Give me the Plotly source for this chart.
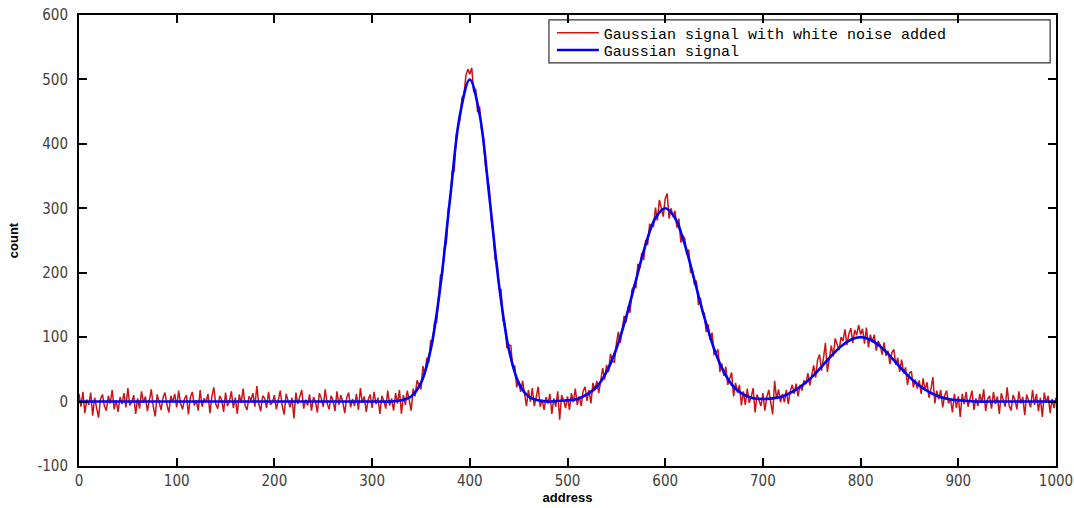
import plotly.graph_objects as go

# ---- data ----
noisy_step = 2  # address spacing of the noisy samples
noisy_counts = [
    12, -8, 15, -18, 3, -5, 14, -22, 6, -10,
    -25, 4, 11, -7, -14, 9, -3, 18, -12, 2,
    -16, 7, -4, 13, -9, 21, -6, -1, 10, -19,
    5, -11, 16, -2, 8, -15, 3, 19, -8, -23,
    11, 1, -13, 6, 14, -5, -17, 9, -1, 12,
    -9, 17, -3, -12, 4, 10, -20, 7, 15, -6,
    2, -14, 18, -8, 5, -1, 12, -18, 8, 22,
    -4, -11, 9, 3, -16, 14, -7, 1, 16, -10,
    6, -19, 11, -2, 20, -6, -13, 8, 2, 13,
    -8, 24, -3, -15, 9, 5, -10, 15, -5, -1,
    10, -12, 4, 17, -7, -20, 12, 1, -9, 6,
    -26, 14, -4, 8, 18, -11, 3, -6, 11, -14,
    7, 0, -17, 13, 5, -8, 19, -3, -12, 9,
    2, -15, 16, -5, 10, -1, -18, 6, 14, -9,
    4, -7, 12, -13, 21, -2, 8, -16, 3, 11,
    -10, 15, -4, 6, -19, 9, 1, -11, 17, -6,
    5, -14, 13, -3, 18, -19, 10, -5, 17, 2,
    -14, 20, 8, 33, 27, 19, 55, 42, 68, 61,
    95, 92, 124, 123, 160, 196, 198, 238, 246, 299,
    312, 357, 357, 413, 427, 437, 472, 476, 506, 516,
    508, 518, 480, 485, 449, 458, 422, 409, 366, 350,
    331, 282, 262, 220, 216, 175, 174, 126, 121, 83,
    88, 87, 52, 56, 22, 32, 15, 32, 12, -7,
    18, 0, 21, -7, 7, 23, -8, 3, -13, 7,
    -3, 12, -19, 5, -8, 16, -28, 10, 2, -10,
    8, -13, 13, -1, 20, -5, 8, -7, 16, 23,
    1, 18, -3, 29, 18, 32, 13, 35, 52, 34,
    57, 46, 74, 63, 61, 90, 108, 91, 112, 133,
    123, 148, 138, 174, 179, 177, 214, 207, 231, 220,
    251, 243, 275, 273, 272, 301, 281, 313, 302, 287,
    315, 323, 284, 300, 287, 296, 270, 284, 247, 258,
    253, 228, 236, 200, 203, 181, 188, 150, 161, 140,
    137, 108, 120, 96, 107, 73, 75, 81, 46, 59,
    40, 54, 26, 35, 45, 8, 29, 14, 26, -6,
    16, -5, 20, -2, 7, 21, -17, 11, 0, -7,
    13, -14, 7, 18, -1, -20, 32, 4, 19, -1,
    12, -1, 18, -4, 16, 26, 12, 28, 8, 26,
    17, 33, 27, 44, 25, 42, 56, 37, 65, 73,
    48, 67, 91, 46, 70, 87, 70, 98, 89, 80,
    100, 94, 112, 88, 105, 114, 91, 111, 103, 119,
    104, 113, 90, 115, 84, 104, 92, 104, 79, 94,
    88, 73, 92, 71, 79, 58, 76, 81, 57, 68,
    46, 65, 44, 53, 26, 44, 47, 22, 34, 20,
    33, 12, 36, 17, 30, 6, 19, 38, -3, 17,
    4, 18, -9, 9, 17, -3, 5, -17, 12, -10,
    8, -24, 12, -4, 15, -8, 4, 17, -13, 5,
    -7, 12, -2, 19, -15, 4, 9, -11, 15, -4,
    8, -19, 13, 1, -8, 22, -6, -14, 10, 3,
    -12, 16, -3, 7, -21, 11, 2, -9, 18, -5,
    12, -15, 6, -24, 14, -2, 9, -18, 4, -10,
    6,
]

clean_step = 10  # address spacing of the clean-signal samples
clean_counts = [
    0, 0, 0, 0, 0, 0, 0, 0, 0, 0,
    0, 0, 0, 0, 0, 0, 0, 0, 0, 0,
    0, 0, 0, 0, 0, 0, 0, 0, 0, 0,
    0, 0, 0, 2, 8, 29, 81, 180, 318, 446,
    500, 446, 318, 180, 81, 29, 8, 2, 0, 1,
    2, 4, 11, 23, 46, 82, 131, 188, 244, 285,
    300, 285, 244, 188, 131, 82, 46, 23, 11, 5,
    4, 5, 8, 15, 25, 38, 54, 71, 86, 96,
    100, 96, 86, 71, 54, 38, 25, 15, 8, 4,
    2, 1, 0, 0, 0, 0, 0, 0, 0, 0,
    0,
]

x_ticks = [0, 100, 200, 300, 400, 500, 600, 700, 800, 900, 1000]
y_ticks = [-100, 0, 100, 200, 300, 400, 500, 600]

noisy_x = [i * noisy_step for i in range(len(noisy_counts))]
clean_x = [i * clean_step for i in range(len(clean_counts))]

fig = go.Figure()
fig.add_trace(go.Scatter(
    x=noisy_x, y=noisy_counts, mode="lines",
    name="Gaussian signal with white noise added",
    line=dict(color="#cc1414", width=1.5),
    legend="legend",
))
fig.add_trace(go.Scatter(
    x=clean_x, y=clean_counts, mode="lines",
    name="Gaussian signal",
    line=dict(color="#0000ff", width=2.6, shape="spline", smoothing=1),
    legend="legend2",
))

tick_font = dict(family="DejaVu Sans Condensed, Liberation Sans Narrow, DejaVu Sans", size=15, color="#404040")
title_font = dict(family="Liberation Sans, Arial, sans-serif", size=13, color="black")

axis_common = dict(
    showline=True, linewidth=2, linecolor="black", mirror="ticks",
    ticks="inside", ticklen=8, tickwidth=2, tickcolor="black",
    showgrid=False, zeroline=False, tickfont=tick_font,
    ticklabeloverflow="allow",
)

fig.update_xaxes(
    range=[0, 1000], tickvals=x_ticks, ticktext=[str(v) for v in x_ticks],
    title=dict(text="<b>address</b>", font=title_font, standoff=2),
    ticklabelstandoff=0,
    **axis_common,
)
fig.update_yaxes(
    range=[-100, 600], tickvals=y_ticks, ticktext=[str(v) for v in y_ticks],
    title=dict(text="<b>count</b>", font=title_font, standoff=16),
    ticklabelstandoff=6,
    **axis_common,
)

legend_font = dict(family="Liberation Mono, Courier New, monospace", size=15, color="black")
legend_common = dict(
    xanchor="left", yanchor="middle",
    bgcolor="rgba(0,0,0,0)", borderwidth=0,
    font=legend_font, itemwidth=42,
)

fig.update_layout(
    width=1074, height=508,
    margin=dict(l=79, r=18, t=15, b=42, autoexpand=False),
    plot_bgcolor="white", paper_bgcolor="white",
    showlegend=True,
    legend=dict(x=0.484, y=0.960, **legend_common),
    legend2=dict(x=0.484, y=0.922, **legend_common),
    shapes=[
        dict(type="rect", xref="paper", yref="paper",
             x0=0.481, x1=0.994, y0=0.894, y1=0.989,
             line=dict(color="#333333", width=1.2), fillcolor="white", layer="below"),
    ],
)

# remove the browser's default 8px body margin so the figure fills the window
fig.write_html(
    "out.html",
    config={"displayModeBar": False},
    post_script="document.body.style.margin='0px';document.body.style.overflow='hidden';",
)
